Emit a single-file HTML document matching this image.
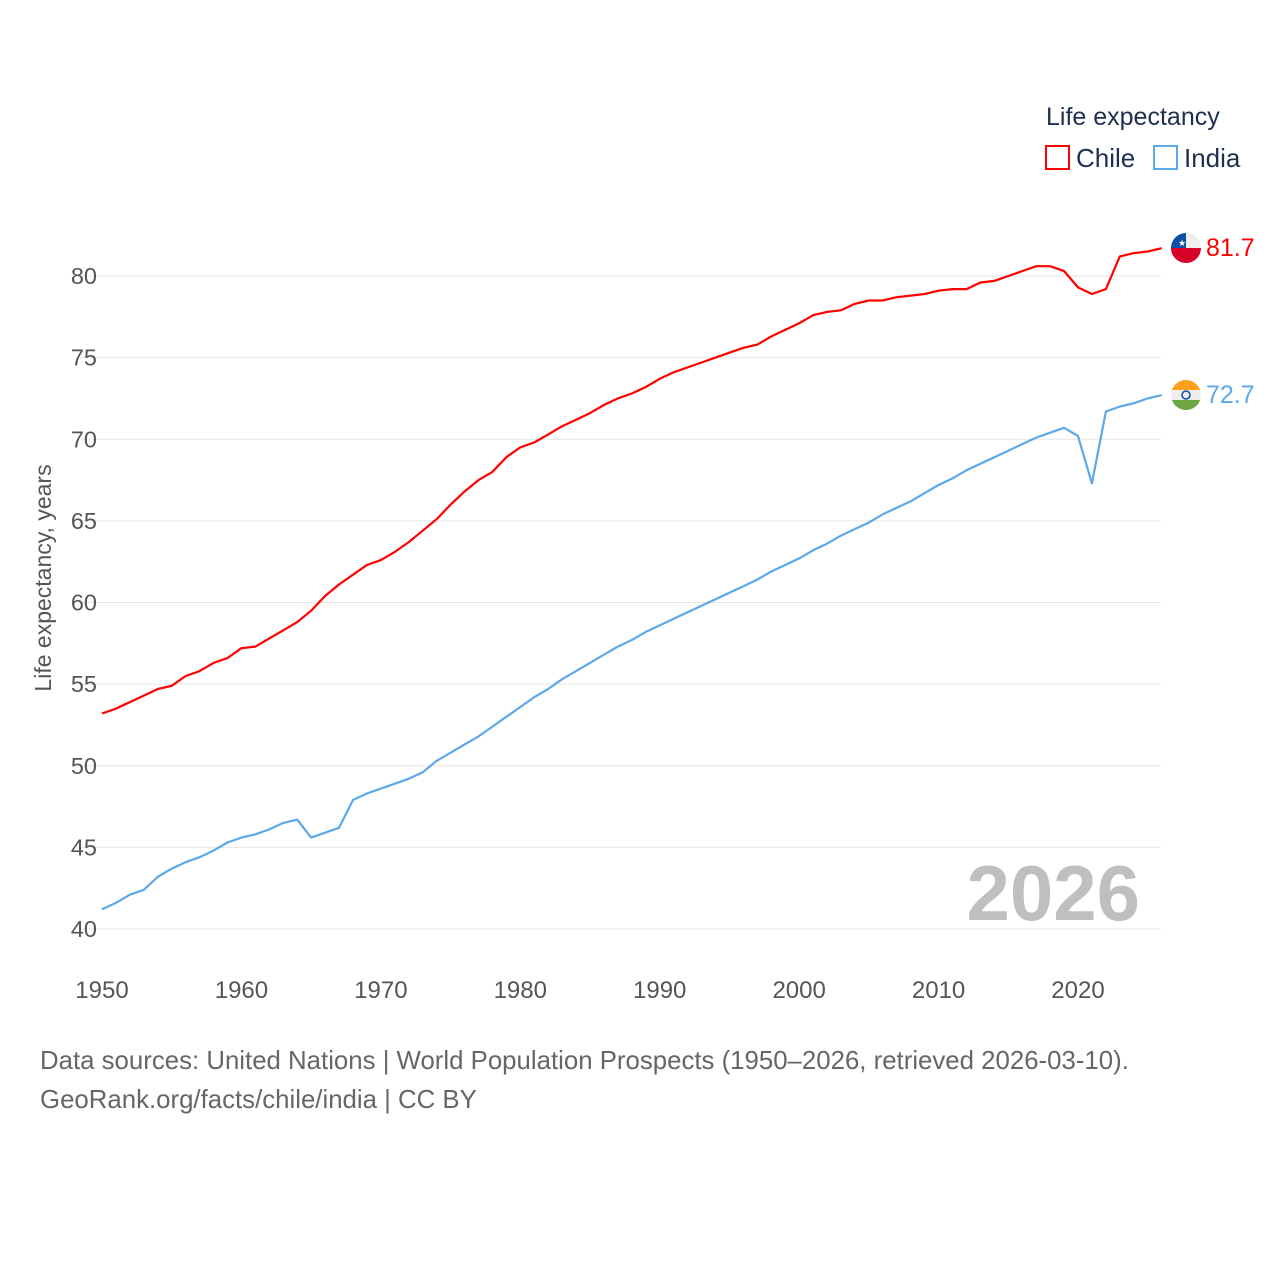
<!DOCTYPE html>
<html><head><meta charset="utf-8"><style>
body{margin:0;background:#fff;width:1280px;height:1280px;overflow:hidden;font-family:"Liberation Sans",sans-serif}
</style></head><body>
<svg id="chart" width="1280" height="1280" xmlns="http://www.w3.org/2000/svg" font-family="Liberation Sans, sans-serif">
<text x="1046" y="125" font-size="25" fill="#1d3050">Life expectancy</text>
<g><rect x="1046" y="146" width="23" height="23" fill="none" stroke="#ff0000" stroke-width="2"/><text x="1076" y="167" font-size="26" fill="#1d3050">Chile</text></g>
<g><rect x="1154" y="146" width="23" height="23" fill="none" stroke="#5ca8ea" stroke-width="2"/><text x="1184" y="167" font-size="26" fill="#1d3050">India</text></g>
<g id="grid"></g><g id="xt"></g><g id="lines"></g>
<text transform="translate(51,578) rotate(-90)" text-anchor="middle" font-size="23" fill="#555">Life expectancy, years</text>
<text x="1140" y="920" text-anchor="end" font-size="78" font-weight="bold" fill="#bfbfbf">2026</text>
<text x="40" y="1069" font-size="25.8" fill="#666">Data sources: United Nations | World Population Prospects (1950–2026, retrieved 2026-03-10).</text>
<text x="40" y="1108" font-size="25.8" fill="#666">GeoRank.org/facts/chile/india | CC BY</text>
<g><clipPath id="c1"><circle cx="1186" cy="248" r="15"/></clipPath><g clip-path="url(#c1)"><rect x="1171" y="233" width="30" height="15" fill="#eee"/><rect x="1171" y="233" width="15" height="15" fill="#0a4fa6"/><rect x="1171" y="248" width="30" height="15" fill="#d80027"/></g><text x="1178" y="246" font-size="9" fill="#fff">★</text></g>
<g><clipPath id="c2"><circle cx="1186" cy="395" r="15"/></clipPath><g clip-path="url(#c2)"><rect x="1171" y="380" width="30" height="10" fill="#ff9f1c"/><rect x="1171" y="390" width="30" height="10" fill="#eee"/><rect x="1171" y="400" width="30" height="10" fill="#6da544"/></g><circle cx="1186" cy="395" r="4" fill="none" stroke="#0a4fa6" stroke-width="1.5"/></g>
</svg>
<script>
const years=[];for(let y=1950;y<=2026;y++)years.push(y);
const chile=[53.2,53.5,53.9,54.3,54.7,54.9,55.5,55.8,56.3,56.6,57.2,57.3,57.8,58.3,58.8,59.5,60.4,61.1,61.7,62.3,62.6,63.1,63.7,64.4,65.1,66.0,66.8,67.5,68.0,68.9,69.5,69.8,70.3,70.8,71.2,71.6,72.1,72.5,72.8,73.2,73.7,74.1,74.4,74.7,75.0,75.3,75.6,75.8,76.3,76.7,77.1,77.6,77.8,77.9,78.3,78.5,78.5,78.7,78.8,78.9,79.1,79.2,79.2,79.6,79.7,80.0,80.3,80.6,80.6,80.3,79.3,78.9,79.2,81.2,81.4,81.5,81.7];
const india=[41.2,41.6,42.1,42.4,43.2,43.7,44.1,44.4,44.8,45.3,45.6,45.8,46.1,46.5,46.7,45.6,45.9,46.2,47.9,48.3,48.6,48.9,49.2,49.6,50.3,50.8,51.3,51.8,52.4,53.0,53.6,54.2,54.7,55.3,55.8,56.3,56.8,57.3,57.7,58.2,58.6,59.0,59.4,59.8,60.2,60.6,61.0,61.4,61.9,62.3,62.7,63.2,63.6,64.1,64.5,64.9,65.4,65.8,66.2,66.7,67.2,67.6,68.1,68.5,68.9,69.3,69.7,70.1,70.4,70.7,70.2,67.3,71.7,72.0,72.2,72.5,72.7];
const yTicks=[40,45,50,55,60,65,70,75,80];
const xTicks=[1950,1960,1970,1980,1990,2000,2010,2020];
const X=v=>102+(v-1950)*(976/70);
const Y=v=>929-(v-40)*(653/40);
const NS='http://www.w3.org/2000/svg';
function mk(t,a,p){const e=document.createElementNS(NS,t);for(const k in a)e.setAttribute(k,a[k]);p.appendChild(e);return e;}
const g=document.getElementById('grid');
yTicks.forEach(t=>{
 const l=mk('line',{x1:80,x2:1161,y1:Y(t),y2:Y(t),stroke:'#e6e6e6','stroke-width':1},g);
 
 
 const tx=mk('text',{x:97,y:Y(t)+8,'text-anchor':'end','font-size':23.5,fill:'#555'},g);
 tx.textContent=t;
 
 
});
const xg=document.getElementById('xt');
xTicks.forEach(t=>{
 const tx=mk('text',{x:X(t),y:998,'text-anchor':'middle','font-size':24,fill:'#555'},xg);
 tx.textContent=t;
 
 
});
const lg=document.getElementById('lines');
function series(vals,color,name){
 const d=vals.map((v,i)=>(i?'L':'M')+X(years[i]).toFixed(1)+','+Y(v).toFixed(1)).join('');
 const p=mk('path',{d:d,fill:'none',stroke:color,'stroke-width':2.2,'stroke-linejoin':'round'},lg);
 
 
 const last=vals[vals.length-1];
 const t=mk('text',{x:1206,y:Y(last)+8,'font-size':25,fill:color},lg);
 t.textContent=last.toFixed(1);
 
 
}
series(chile,'#ff0000','chile');
series(india,'#5ca8ea','india');
</script>
</body></html>
